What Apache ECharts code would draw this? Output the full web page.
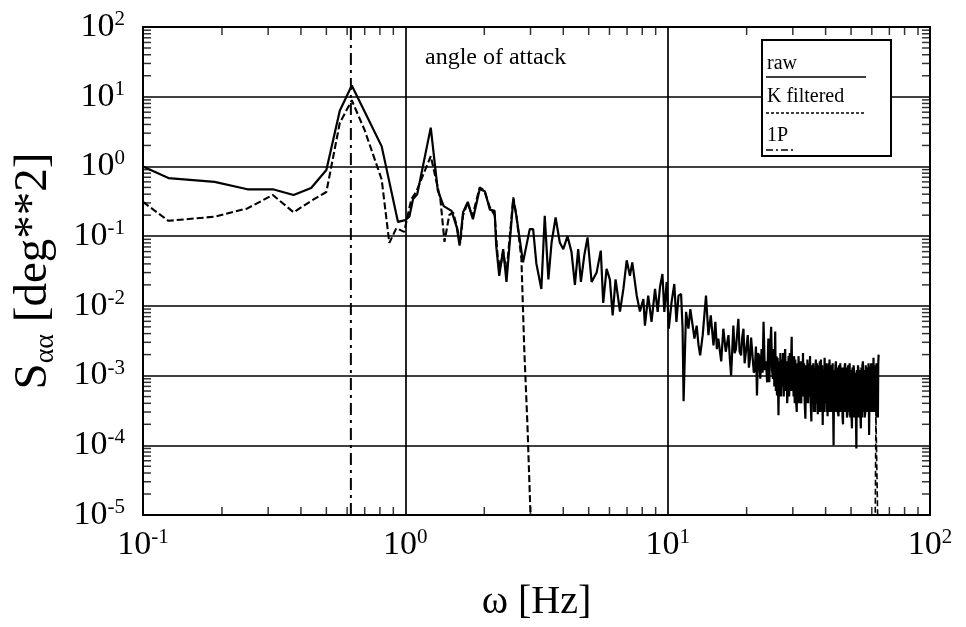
<!DOCTYPE html>
<html>
<head>
<meta charset="utf-8">
<script src="https://cdn.jsdelivr.net/npm/echarts@6/dist/echarts.min.js"></script>
<style>html,body{margin:0;padding:0;background:#fff;}#c{width:966px;height:627px;}</style>
</head>
<body>
<div id="c"></div>
<script>
// ---- data ----
// raw spectrum, 0.1 .. 24 Hz  [frequency Hz, S deg^2]
const rawLow = [[0.1,1.0],[0.125,0.68],[0.1875,0.6],[0.25,0.47],[0.3125,0.47],[0.375,0.39],[0.4375,0.49],[0.5,0.89],[0.5625,6.3],[0.625,14.5],[0.73,4.4],[0.8125,1.94],[0.9375,0.16],[1.0,0.17],[1.036,0.19],[1.07,0.34],[1.11,0.4],[1.25,3.6],[1.33,0.45],[1.40,0.27],[1.50,0.23],[1.57,0.135],[1.61,0.073],[1.66,0.22],[1.73,0.31],[1.81,0.175],[1.92,0.47],[2.01,0.44],[2.10,0.24],[2.19,0.23],[2.22,0.073],[2.28,0.027],[2.36,0.065],[2.43,0.022],[2.58,0.34],[2.65,0.195],[2.81,0.042],[2.98,0.126],[3.07,0.126],[3.16,0.04],[3.30,0.0175],[3.40,0.195],[3.51,0.024],[3.61,0.081],[3.74,0.185],[3.88,0.081],[4.0,0.065],[4.15,0.1],[4.30,0.059],[4.43,0.02],[4.56,0.065],[4.67,0.022],[4.81,0.053],[4.95,0.096],[5.13,0.022],[5.36,0.03],[5.56,0.062],[5.68,0.011],[5.85,0.034],[6.02,0.024],[6.17,0.0073],[6.33,0.024],[6.58,0.0083],[6.78,0.0175],[6.98,0.045],[7.18,0.027],[7.33,0.042],[7.62,0.0141],[7.84,0.0083],
[8.08,0.0125],[8.19,0.0052],[8.43,0.014],[8.68,0.0059],[8.95,0.0175],[9.16,0.0082],[9.35,0.0187],[9.55,0.0286],[9.71,0.0082],[9.91,0.022],[10.1,0.0047],[10.35,0.0114],[10.6,0.0206],[10.8,0.0059],[11.0,0.014],[11.25,0.0148],[11.4,0.0047],[11.5,0.00043],[11.75,0.0082],[12.0,0.0047],[12.2,0.009],[12.35,0.0065],[12.65,0.0034],[12.9,0.0052],[13.1,0.0028],[13.3,0.00195],[13.6,0.0038],[14.0,0.014],[14.3,0.0038],[14.6,0.0073],[14.95,0.0027],[15.2,0.0059],[15.4,0.0024],[15.6,0.0034],[16.0,0.0016],[16.3,0.0047],[16.65,0.0022],[17.05,0.0038],[17.25,0.0018],[17.45,0.001],[17.8,0.0052],[18.0,0.0021],[18.2,0.0024],[18.6,0.0065],[18.8,0.0022],[19.05,0.00195],[19.25,0.0036],[19.45,0.0047],[19.65,0.0015],[19.85,0.0016],[20.2,0.0038],[20.4,0.0013],[20.6,0.00175],[20.8,0.0035],[21.05,0.0034],[21.3,0.0011],[21.5,0.00126],[21.7,0.0026],[21.9,0.00052],[22.1,0.0021],[22.3,0.00195],[22.55,0.0009],[22.8,0.0024],[23.0,0.0011],[23.2,0.0059],[23.45,0.0012],[23.7,0.0016],[23.95,0.0008]];
// raw spectrum, 24 .. 64 Hz (dense part)
const rawHigh = [[24.2,0.0034],[24.4,0.0008],[24.6,0.0024],[24.8,0.005],[25.0,0.0012],[25.2,0.0009],[25.35,0.0024],[25.5,0.0007],[25.7,0.0043],[25.85,0.0006],[26.0,0.0019],[26.1,0.00052],[26.25,0.0018],[26.45,0.00027],[26.6,0.0016],[26.75,0.0005],[26.9,0.0021],[27.05,0.0005],[27.2,0.0017],[27.4,0.0007],[27.55,0.0021],[27.7,0.0005],[27.9,0.0018],[28.05,0.0024],[28.2,0.0006],[28.4,0.0016],[28.55,0.0004],[28.7,0.00065],[28.9,0.0019],[29.05,0.0005],[29.2,0.0021],[29.4,0.0006],[29.55,0.0017],[29.7,0.0036],[29.85,0.0006],[30.0,0.0015],[30.2,0.0005],[30.35,0.0019],[30.5,0.0004],[30.65,0.0017],[30.8,0.0005],[31.05,0.0003],[31.2,0.0015],[31.4,0.0005],[31.55,0.0019],[31.7,0.0004],[31.9,0.0016],[32.05,0.0005],[32.3,0.0004],[32.45,0.0016],[32.6,0.0005],[32.8,0.0021],[32.95,0.0005],[33.1,0.0015],[33.3,0.0004],[33.5,0.00024],[33.7,0.0014],[33.9,0.0004],[34.1,0.0017],[34.3,0.0004],[34.5,0.0015],[34.7,0.0005],[34.9,0.0019],[35.1,0.0004],[35.3,0.00022],[35.5,0.0014],[35.7,0.0004],[35.9,0.0015],[36.1,0.0003],[36.3,0.0013],[36.5,0.0003],[36.7,0.0017],[36.9,0.0004],[37.1,0.0015],[37.35,0.00028],[37.6,0.0014],[37.8,0.0003],[38.0,0.0016],[38.2,0.0003],[38.4,0.0017],[38.6,0.0003],[38.8,0.0014],[39.0,0.000195],[39.2,0.0012],[39.4,0.0003],[39.65,0.0018],[39.85,0.0004],[40.1,0.0015],[40.3,0.0003],[40.5,0.0014],[40.7,0.00026],[40.95,0.0015],[41.15,0.0003],[41.4,0.0017],[41.6,0.0003],[41.85,0.0014],[42.1,0.0003],[42.3,0.0005],[42.55,0.0015],[42.75,0.0003],[42.9,0.0001],[43.1,0.0012],[43.35,0.0003],[43.6,0.0014],[43.8,0.0016],[44.05,0.0003],[44.3,0.0013],[44.55,0.0003],[44.8,0.00026],[45.0,0.0014],[45.25,0.0003],[45.5,0.0015],[45.7,0.0016],[45.95,0.0003],[46.2,0.0013],[46.4,0.00025],[46.6,0.0002],[46.85,0.0013],[47.1,0.0003],[47.3,0.0014],[47.5,0.0015],[47.75,0.0003],[48.0,0.0013],[48.25,0.00025],[48.5,0.00028],[48.75,0.0014],[49.0,0.0003],[49.2,0.0012],[49.4,0.0015],[49.65,0.00025],[49.9,0.0012],[50.15,0.0003],[50.4,0.000175],[50.65,0.0013],[50.9,0.00025],[51.15,0.0014],[51.4,0.0011],[51.65,0.00025],[51.9,0.0011],[52.15,0.0003],[52.4,0.00009],[52.65,0.0012],[52.9,0.00025],[53.15,0.0014],[53.4,0.0012],[53.65,0.00025],[53.9,0.0012],[54.2,0.0003],[54.5,0.000175],[54.75,0.0013],[55.0,0.00025],[55.25,0.0014],[55.5,0.0016],[55.75,0.0003],[56.0,0.0012],[56.3,0.00025],[56.6,0.00028],[56.9,0.0014],[57.2,0.0003],[57.5,0.0013],[57.75,0.0003],[58.0,0.0004],[58.3,0.0015],[58.6,0.00014],[58.9,0.0012],[59.2,0.0003],[59.45,0.0013],[59.7,0.0015],[60.0,0.0003],[60.3,0.0014],[60.6,0.0003],[60.9,0.0018],[61.2,0.0004],[61.5,0.0014],[61.8,0.0003],[62.0,0.0012],[62.2,0.0005],[62.5,0.0015],[62.8,0.00025],[63.0,0.0013],[63.3,0.00025],[63.5,0.0015],[63.7,0.002]];
// Kalman filtered spectrum
const kFiltered = [[0.1,0.31],[0.125,0.166],[0.1875,0.19],[0.25,0.25],[0.3125,0.39],[0.375,0.22],[0.4375,0.32],[0.5,0.43],[0.5625,4.2],[0.625,8.9],[0.70,3.3],[0.8125,0.65],[0.869,0.08],[0.924,0.13],[0.99,0.115],[1.054,0.34],[1.10,0.43],[1.25,1.4],[1.36,0.34],[1.41,0.083],[1.47,0.2],[1.52,0.22],[1.57,0.14],[1.62,0.08],[1.66,0.2],[1.73,0.3],[1.80,0.19],[1.92,0.5],[2.0,0.45],[2.1,0.26],[2.19,0.2],[2.25,0.05],[2.3,0.035],[2.36,0.06],[2.43,0.03],[2.58,0.36],[2.65,0.2],[2.77,0.047],[2.84,0.0024],[2.92,0.0002],[3.0,0.00001],[3.05,0.000001]];
const kFilteredEnd = [[61.6,0.000001],[62.2,0.0003],[63.2,0.0003],[63.8,0.000001]];

const onePFreq = 0.62;
const xTickExps = [-1,0,1,2];
const yTickExps = [-5,-4,-3,-2,-1,0,1,2];
const minorMult = [2,3,4,5,6,7,8,9];
const xDecades = [0.1,1,10];
const yDecades = [1e-5,1e-4,1e-3,1e-2,1e-1,1,10];

// ---- build ----
const FONT = "'Liberation Serif','DejaVu Serif',serif";
const xMinor = [], yMinor = [];
xDecades.forEach(d=>minorMult.forEach(m=>xMinor.push(d*m)));
yDecades.forEach(d=>minorMult.forEach(m=>yMinor.push(d*m)));

function expLabel(v, list){
  const e = Math.round(Math.log10(v));
  if (list.indexOf(e) < 0) return '';
  return '{b|10}{s|' + e + '}';
}
const labelRich = {
  b:{fontFamily:FONT,fontSize:34,color:'#000',lineHeight:36},
  s:{fontFamily:FONT,fontSize:21,color:'#000',lineHeight:21,verticalAlign:'top'}
};
const tickStyle = {color:'#000'};

const chart = echarts.init(document.getElementById('c'), null, {renderer:'canvas'});
chart.setOption({
  animation:false,
  backgroundColor:'#fff',
  grid:{left:142,right:36,top:27,bottom:110,show:true,borderColor:'#000',borderWidth:2,backgroundColor:'transparent'},
  xAxis:{
    type:'log',logBase:10,min:0.1,max:100,
    name:'ω [Hz]',nameLocation:'middle',nameGap:67,
    nameTextStyle:{fontFamily:FONT,fontSize:40,color:'#000'},
    axisLine:{show:false},axisTick:{show:false},
    splitLine:{show:true,lineStyle:{color:'#000',width:1.7}},
    axisLabel:{margin:12,formatter:v=>expLabel(v,xTickExps),rich:labelRich}
  },
  yAxis:{
    type:'log',logBase:10,min:1e-5,max:100,
    name:'S{sub|αα} [deg**2]',nameLocation:'middle',nameGap:83,nameRotate:90,
    nameTextStyle:{fontFamily:FONT,fontSize:47,color:'#000',lineHeight:52,
      rich:{sub:{fontFamily:FONT,fontSize:28,color:'#000',lineHeight:22,verticalAlign:'bottom'}}},
    axisLine:{show:false},axisTick:{show:false},
    splitLine:{show:true,lineStyle:{color:'#000',width:1.7}},
    axisLabel:{margin:18,formatter:v=>expLabel(v,yTickExps),rich:labelRich}
  },
  series:[
    {type:'line',name:'raw',data:rawLow.concat(rawHigh),showSymbol:false,symbol:'none',clip:true,
     lineStyle:{color:'#000',width:2.2},z:5},
    {type:'line',name:'K filtered',data:kFiltered,showSymbol:false,symbol:'none',clip:true,
     lineStyle:{color:'#000',width:2.1,type:[7,3]},z:4},
    {type:'line',name:'K filtered end',data:kFilteredEnd,showSymbol:false,symbol:'none',clip:true,
     lineStyle:{color:'#000',width:1.6,type:[6,3]},z:4},
    {type:'line',name:'1P',data:[[onePFreq,1e-5],[onePFreq,100]],showSymbol:false,symbol:'none',clip:true,
     lineStyle:{color:'#000',width:2,type:[12,5,3,5]},z:3},
    {type:'scatter',silent:true,clip:false,symbol:'rect',symbolSize:[1.5,8],symbolOffset:[0,-4],
     itemStyle:tickStyle,data:xMinor.map(f=>[f,1e-5])},
    {type:'scatter',silent:true,clip:false,symbol:'rect',symbolSize:[1.5,8],symbolOffset:[0,4],
     itemStyle:tickStyle,data:xMinor.map(f=>[f,100])},
    {type:'scatter',silent:true,clip:false,symbol:'rect',symbolSize:[8,1.5],symbolOffset:[4,0],
     itemStyle:tickStyle,data:yMinor.map(v=>[0.1,v])},
    {type:'scatter',silent:true,clip:false,symbol:'rect',symbolSize:[8,1.5],symbolOffset:[-4,0],
     itemStyle:tickStyle,data:yMinor.map(v=>[100,v])}
  ],
  graphic:[
    {type:'text',left:425,top:46,style:{text:'angle of attack',font:'24px '+FONT,fill:'#000'},z:10},
    {type:'rect',shape:{x:762,y:40,width:129,height:116},style:{fill:'#fff',stroke:'#000',lineWidth:2},z:10},
    {type:'text',x:767,y:54,style:{text:'raw',font:'20px '+FONT,fill:'#000'},z:11},
    {type:'line',shape:{x1:766,y1:77,x2:866,y2:77},style:{stroke:'#000',lineWidth:1.6},z:11},
    {type:'text',x:767,y:87,style:{text:'K filtered',font:'20px '+FONT,fill:'#000'},z:11},
    {type:'line',shape:{x1:766,y1:113,x2:866,y2:113},style:{stroke:'#000',lineWidth:1.6,lineDash:[3,2]},z:11},
    {type:'text',x:767,y:126,style:{text:'1P',font:'20px '+FONT,fill:'#000'},z:11},
    {type:'line',shape:{x1:766,y1:150,x2:794,y2:150},style:{stroke:'#000',lineWidth:1.6,lineDash:[7,3,2,3]},z:11}
  ]
});
</script>
</body>
</html>
